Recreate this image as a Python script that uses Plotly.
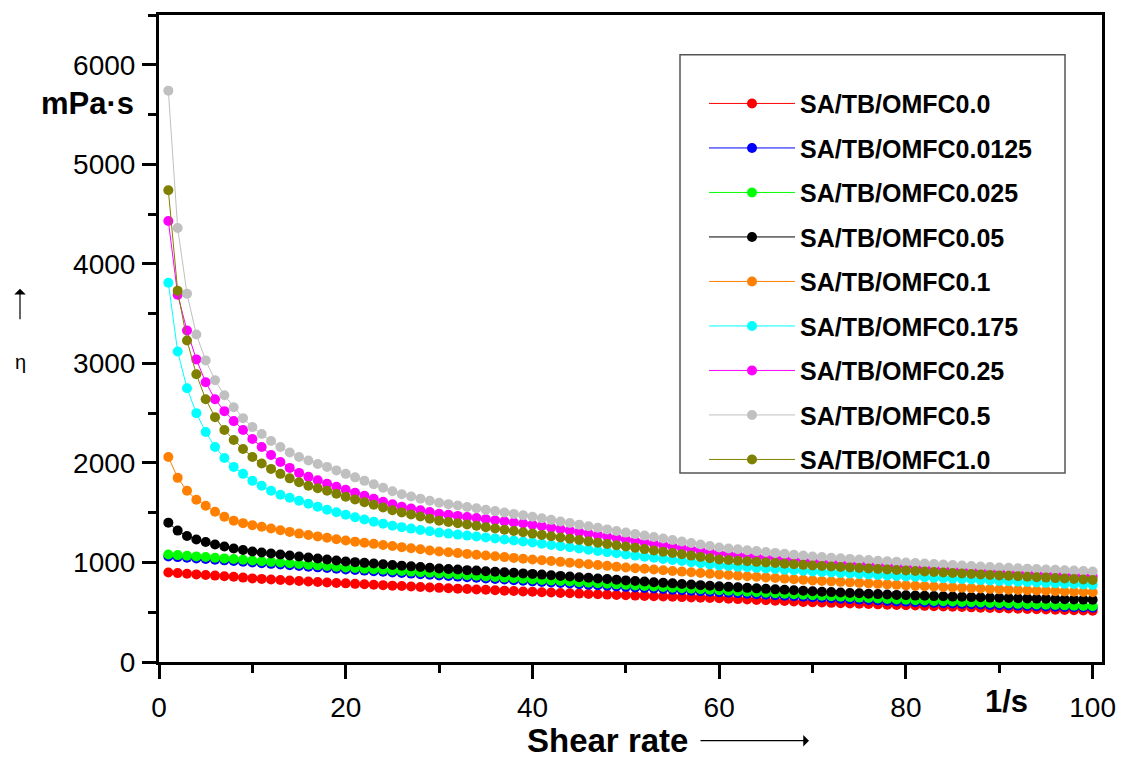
import plotly.graph_objects as go

shear_rate = list(range(1, 101))

names = ["SA/TB/OMFC0.0", "SA/TB/OMFC0.0125", "SA/TB/OMFC0.025", "SA/TB/OMFC0.05",
         "SA/TB/OMFC0.1", "SA/TB/OMFC0.175", "SA/TB/OMFC0.25", "SA/TB/OMFC0.5", "SA/TB/OMFC1.0"]
colors = ["#FF0000", "#0000FF", "#00FF00", "#000000", "#FF8000",
          "#00FFFF", "#FF00FF", "#C0C0C0", "#808000"]

eta_0_0 = [900, 893, 887, 880, 874, 868, 862, 856, 848, 840,
           835, 829, 824, 818, 813, 808, 803, 799, 794, 790,
           785, 781, 776, 772, 767, 763, 758, 754, 749, 745,
           741, 737, 733, 729, 725, 721, 717, 713, 709, 705,
           701, 698, 694, 691, 687, 684, 680, 677, 673, 670,
           667, 664, 661, 658, 655, 652, 649, 646, 643, 640,
           636, 632, 628, 624, 620, 616, 612, 608, 604, 600,
           597, 594, 591, 588, 585, 582, 579, 576, 573, 570,
           567, 564, 561, 558, 555, 552, 549, 546, 543, 540,
           537, 535, 532, 530, 527, 525, 522, 520, 517, 515]

eta_0_0125 = [1060, 1054, 1048, 1041, 1035, 1028, 1021, 1014, 1007, 1000,
              993, 986, 979, 972, 965, 958, 951, 944, 937, 930,
              924, 918, 912, 906, 900, 894, 888, 882, 876, 870,
              864, 858, 852, 846, 840, 834, 828, 822, 816, 810,
              804, 799, 793, 788, 782, 777, 771, 766, 760, 755,
              749, 744, 738, 733, 727, 722, 716, 711, 705, 700,
              695, 690, 685, 680, 675, 670, 665, 660, 655, 650,
              645, 641, 636, 632, 627, 623, 618, 614, 609, 605,
              601, 598, 594, 591, 587, 584, 580, 577, 573, 570,
              568, 565, 563, 560, 558, 555, 553, 550, 548, 545]

eta_0_025 = [1080, 1074, 1068, 1061, 1055, 1048, 1041, 1034, 1027, 1020,
             1013, 1006, 999, 992, 985, 978, 971, 964, 957, 950,
             944, 938, 932, 926, 920, 914, 908, 902, 896, 890,
             884, 878, 872, 866, 860, 854, 848, 842, 836, 830,
             824, 819, 813, 808, 802, 797, 791, 786, 780, 775,
             769, 764, 758, 753, 747, 742, 736, 731, 725, 720,
             715, 710, 705, 700, 695, 690, 685, 680, 675, 670,
             665, 661, 656, 652, 647, 643, 638, 634, 629, 625,
             621, 618, 614, 611, 607, 604, 600, 597, 593, 590,
             587, 584, 581, 578, 575, 572, 569, 566, 563, 560]

eta_0_05 = [1400, 1320, 1265, 1230, 1205, 1180, 1160, 1140, 1125, 1110,
            1100, 1090, 1080, 1070, 1060, 1050, 1040, 1030, 1020, 1010,
            1003, 996, 989, 982, 975, 968, 961, 954, 947, 940,
            934, 929, 923, 918, 912, 907, 901, 896, 890, 885,
            878, 872, 865, 859, 852, 846, 839, 833, 826, 820,
            814, 808, 802, 796, 790, 784, 778, 772, 766, 760,
            755, 750, 745, 740, 735, 730, 725, 720, 715, 710,
            706, 702, 698, 694, 690, 686, 682, 678, 674, 670,
            667, 665, 662, 660, 657, 655, 652, 650, 647, 645,
            643, 641, 639, 637, 635, 633, 631, 629, 627, 625]

eta_0_1 = [2060, 1850, 1720, 1630, 1570, 1510, 1460, 1420, 1395, 1375,
           1358, 1341, 1324, 1307, 1290, 1276, 1262, 1248, 1234, 1220,
           1209, 1198, 1187, 1176, 1165, 1154, 1143, 1132, 1121, 1110,
           1102, 1094, 1086, 1078, 1070, 1062, 1054, 1046, 1038, 1030,
           1022, 1014, 1006, 998, 990, 982, 974, 966, 958, 950,
           943, 936, 929, 922, 915, 908, 901, 894, 887, 880,
           874, 868, 862, 856, 850, 844, 838, 832, 826, 820,
           815, 810, 805, 800, 795, 790, 785, 780, 775, 770,
           766, 762, 758, 754, 750, 746, 742, 738, 734, 730,
           727, 724, 721, 718, 715, 712, 709, 706, 703, 700]

eta_0_175 = [3810, 3120, 2750, 2500, 2310, 2160, 2050, 1960, 1890, 1820,
             1770, 1720, 1680, 1650, 1620, 1590, 1560, 1530, 1505, 1480,
             1455, 1432, 1410, 1390, 1370, 1355, 1340, 1326, 1313, 1300,
             1290, 1280, 1270, 1260, 1250, 1240, 1230, 1220, 1210, 1200,
             1188, 1176, 1164, 1152, 1140, 1128, 1116, 1104, 1092, 1080,
             1069, 1058, 1047, 1036, 1025, 1014, 1003, 992, 981, 970,
             964, 958, 952, 946, 940, 934, 928, 922, 916, 910,
             905, 900, 895, 890, 885, 880, 875, 870, 865, 860,
             856, 851, 847, 842, 838, 833, 829, 824, 820, 815,
             811, 807, 803, 799, 795, 791, 787, 783, 779, 775]

eta_0_25 = [4430, 3690, 3330, 3040, 2810, 2640, 2520, 2420, 2330, 2240,
            2160, 2080, 2010, 1950, 1900, 1860, 1825, 1790, 1760, 1730,
            1700, 1670, 1640, 1610, 1585, 1560, 1542, 1524, 1507, 1490,
            1479, 1468, 1457, 1446, 1435, 1424, 1413, 1402, 1391, 1380,
            1365, 1350, 1335, 1320, 1305, 1290, 1275, 1260, 1245, 1230,
            1216, 1202, 1188, 1174, 1160, 1146, 1132, 1118, 1104, 1090,
            1082, 1074, 1066, 1058, 1050, 1042, 1034, 1026, 1018, 1010,
            1005, 1000, 995, 990, 985, 980, 975, 970, 965, 960,
            955, 949, 944, 938, 933, 927, 922, 916, 911, 905,
            900, 896, 891, 887, 882, 878, 873, 869, 864, 860]

eta_0_5 = [5740, 4360, 3700, 3290, 3030, 2830, 2680, 2560, 2450, 2360,
           2290, 2220, 2160, 2105, 2060, 2025, 1990, 1960, 1925, 1890,
           1855, 1820, 1785, 1750, 1715, 1685, 1663, 1641, 1620, 1600,
           1586, 1572, 1558, 1544, 1530, 1516, 1502, 1488, 1474, 1460,
           1444, 1428, 1412, 1396, 1380, 1364, 1348, 1332, 1316, 1300,
           1285, 1270, 1255, 1240, 1225, 1210, 1195, 1180, 1165, 1150,
           1141, 1132, 1123, 1114, 1105, 1096, 1087, 1078, 1069, 1060,
           1054, 1048, 1042, 1036, 1030, 1024, 1018, 1012, 1006, 1000,
           995, 990, 985, 980, 975, 970, 965, 960, 955, 950,
           946, 942, 938, 934, 930, 926, 922, 918, 914, 910]

eta_1_0 = [4740, 3730, 3230, 2890, 2640, 2460, 2330, 2230, 2140, 2060,
           1995, 1940, 1890, 1845, 1805, 1770, 1745, 1720, 1690, 1660,
           1633, 1606, 1579, 1552, 1525, 1503, 1482, 1461, 1440, 1420,
           1407, 1394, 1381, 1368, 1355, 1342, 1329, 1316, 1303, 1290,
           1277, 1264, 1251, 1238, 1225, 1212, 1199, 1186, 1173, 1160,
           1147, 1134, 1121, 1108, 1095, 1082, 1069, 1056, 1043, 1030,
           1024, 1018, 1012, 1006, 1000, 994, 988, 982, 976, 970,
           965, 960, 955, 950, 945, 940, 935, 930, 925, 920,
           915, 910, 905, 900, 895, 890, 885, 880, 875, 870,
           866, 861, 857, 852, 848, 843, 839, 834, 830, 825]

series = [eta_0_0, eta_0_0125, eta_0_025, eta_0_05, eta_0_1,
          eta_0_175, eta_0_25, eta_0_5, eta_1_0]

x_ticks = [0, 20, 40, 60, 80, 100]
y_ticks = [0, 1000, 2000, 3000, 4000, 5000, 6000]

FONT = "Liberation Sans, Arial, sans-serif"

fig = go.Figure()
for i, (nm, col, vals) in enumerate(zip(names, colors, series)):
    fig.add_trace(go.Scatter(
        x=shear_rate, y=vals, name=nm, mode="lines+markers",
        legendgroup=f"g{i}",
        line=dict(color=col, width=1),
        marker=dict(color=col, size=10, symbol="circle"),
    ))

# plot area in pixels: x 159..1102, y 12..662
L, R, T, B = 159, 1102, 12, 662
W, H = R - L, B - T


def px(xp):
    return (xp - L) / W


def py(yp):
    return (B - yp) / H


fig.update_layout(
    width=1128, height=758,
    margin=dict(l=L, r=1128 - R, t=T, b=758 - B, pad=0),
    paper_bgcolor="white", plot_bgcolor="white",
    font=dict(family=FONT, color="black", size=28),
    showlegend=True,
    legend=dict(
        x=px(704), y=py(78), xanchor="left", yanchor="top",
        borderwidth=0, bgcolor="rgba(255,255,255,0)",
        font=dict(family=FONT, size=25, color="black", weight="bold"),
        tracegroupgap=9, itemwidth=86,
    ),
    xaxis=dict(
        range=[0, 101], tickvals=x_ticks, ticktext=[str(v) for v in x_ticks],
        showgrid=False, zeroline=False, showline=True, linecolor="black", linewidth=3,
        mirror=True, ticks="outside", ticklen=14, tickwidth=2.5, tickcolor="black",
        tickfont=dict(size=28, family=FONT), ticklabelstandoff=4,
        minor=dict(dtick=10, tick0=0, ticks="outside", ticklen=8, tickwidth=2.5, tickcolor="black"),
    ),
    yaxis=dict(
        range=[0, 6500], tickvals=y_ticks, ticktext=[str(v) for v in y_ticks],
        showgrid=False, zeroline=False, showline=True, linecolor="black", linewidth=3,
        mirror=True, ticks="outside", ticklen=14, tickwidth=2.5, tickcolor="black",
        tickfont=dict(size=28, family=FONT), ticklabelstandoff=1,
        minor=dict(dtick=500, tick0=0, ticks="outside", ticklen=8, tickwidth=2.5, tickcolor="black"),
    ),
)

# legend frame
fig.add_shape(type="rect", xref="paper", yref="paper",
              x0=px(680), x1=px(1065), y0=py(472), y1=py(52),
              line=dict(color="#555555", width=1.5), fillcolor="rgba(0,0,0,0)")

ann = dict(xref="paper", yref="paper", showarrow=False)
fig.add_annotation(**ann, x=px(136), y=py(101), xanchor="right", yanchor="middle",
                   text="<b>mPa·s</b>", font=dict(family=FONT, color="black", size=31))
fig.add_annotation(**ann, x=px(20), y=py(361), xanchor="center", yanchor="middle",
                   text="η", font=dict(family=FONT, color="black", size=20))
fig.add_annotation(**ann, x=px(607), y=py(741), xanchor="center", yanchor="middle",
                   text="<b>Shear rate</b>", font=dict(family=FONT, color="black", size=33))
fig.add_annotation(**ann, x=px(1006), y=py(702), xanchor="center", yanchor="middle",
                   text="<b>1/s</b>", font=dict(family=FONT, color="black", size=31))
# arrows
fig.add_annotation(xref="paper", yref="paper", axref="pixel", ayref="pixel",
                   x=px(20), y=py(287), ax=0, ay=32, text="", showarrow=True,
                   arrowhead=1, arrowsize=1.6, arrowwidth=1.2, arrowcolor="black")
fig.add_annotation(xref="paper", yref="paper", axref="pixel", ayref="pixel",
                   x=px(809), y=py(741), ax=-110, ay=0, text="", showarrow=True,
                   arrowhead=1, arrowsize=1.6, arrowwidth=1.2, arrowcolor="black")

fig.write_html("out.html")
